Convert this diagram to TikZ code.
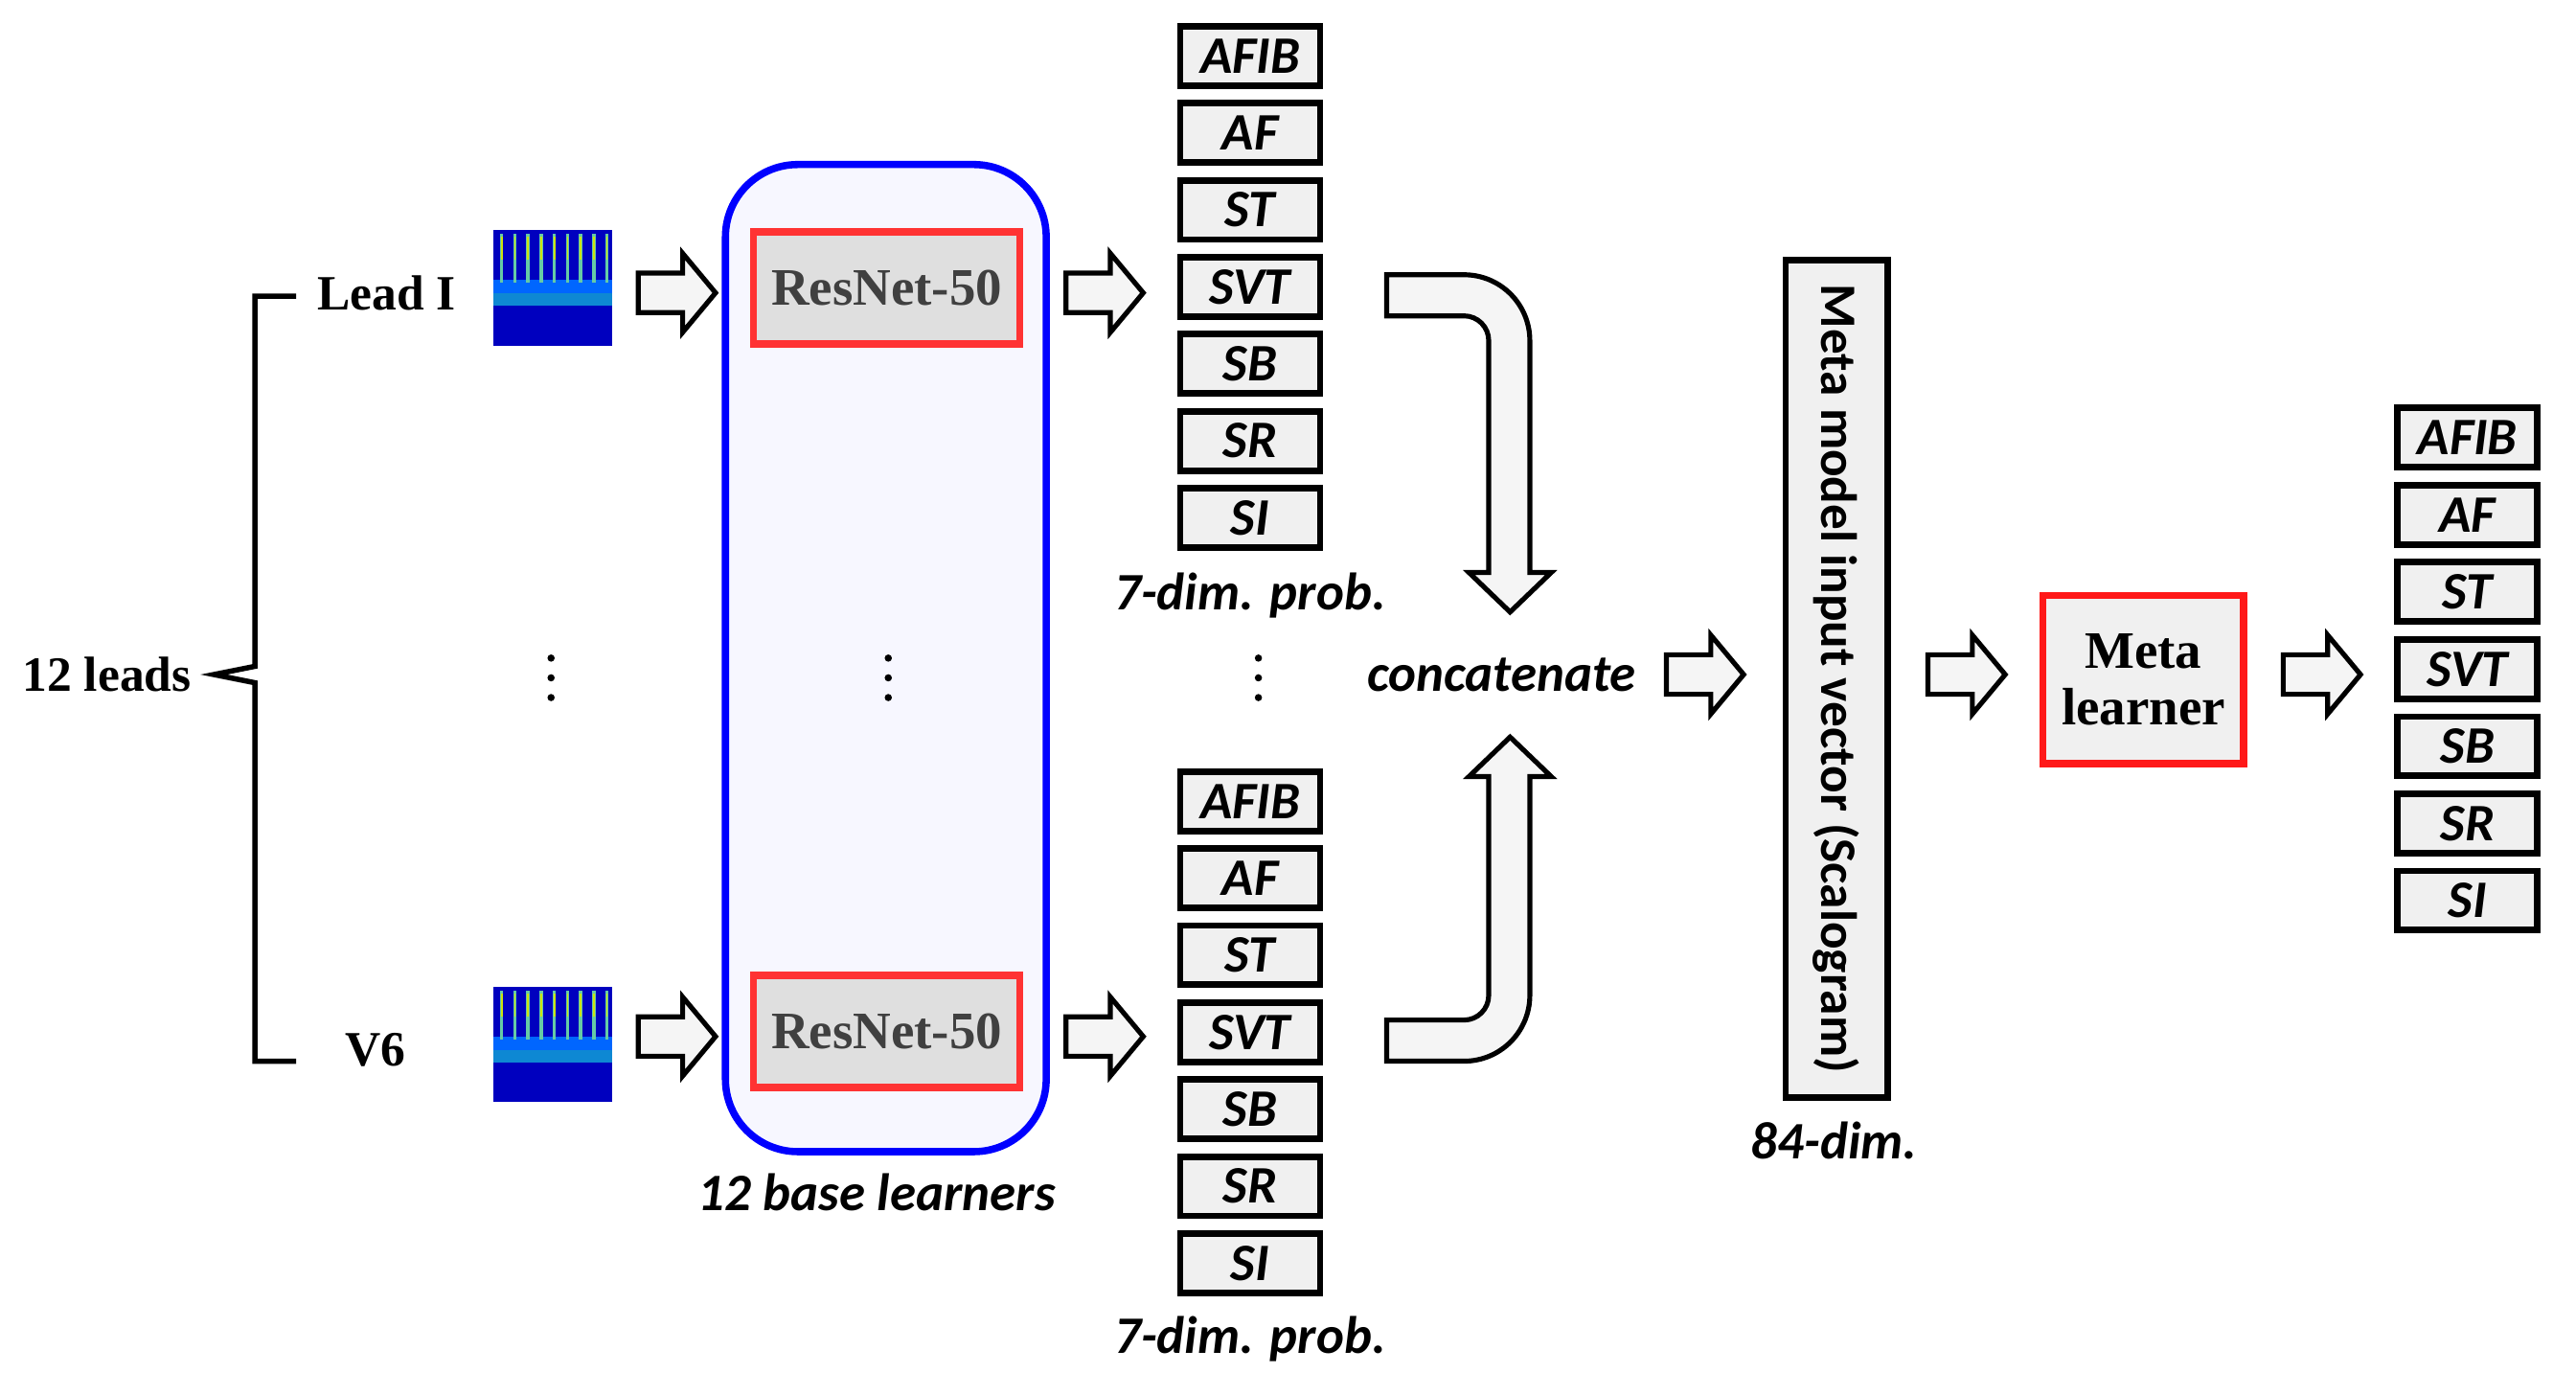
\documentclass[tikz,border=0pt]{standalone}
\usepackage{fontspec}
\setmainfont{Liberation Serif}
\newfontfamily\cf{Carlito}
\begin{document}
\begin{tikzpicture}[x=0.5pt,y=0.5pt,
  cls/.style={draw, line width=2pt, fill=gray!12, minimum width=42.5pt, minimum height=18pt, inner sep=0pt, font=\cf\bfseries\itshape\fontsize{16}{16}\selectfont},
  lbl/.style={font=\cf\bfseries\itshape\fontsize{16}{16}\selectfont},
  ser/.style={font=\bfseries\fontsize{15}{15}\selectfont},
  barrow/.pic={\draw[line width=1.5pt, fill=gray!8, line join=miter] (0,-12)--(27,-12)--(27,-24)--(47,0)--(27,24)--(27,12)--(0,12)--cycle;},
  bigarrow/.style={draw, line width=1.5pt, fill=gray!8, line join=miter}]
\useasboundingbox (0,0) rectangle (1566,-834);
% brace
\draw[line width=1.6pt] (180,-180) -- (155,-180) -- (155,-405) -- (130,-410) -- (155,-415) -- (155,-645) -- (180,-645);
\node[ser] (leads) at (65,-410) {12 leads};
\node[ser] (leadI) at (235,-178) {Lead I};
\node[ser] (v6) at (228,-638) {V6};
% scalograms
\foreach \yy/\nm in {140/sA,600/sB}{
  \fill[blue!75!black] (300,-\yy) rectangle (372,-\yy-70);
  \fill[cyan!70!blue] (300,-\yy-38) rectangle (372,-\yy-46);
  \fill[blue!60!cyan] (300,-\yy-30) rectangle (372,-\yy-38);
  \foreach \k in {0,...,8}{\fill[cyan!60!yellow] (304+\k*8,-\yy-2) rectangle (306+\k*8,-\yy-32);}
  \foreach \k in {0,...,8}{\fill[yellow!80!green] (304.5+\k*8,-\yy-4) rectangle (305.5+\k*8,-\yy-18);}
  \coordinate (\nm) at (336,-\yy-35);
}
% base learners container
\draw[blue, line width=2.2pt, fill=blue!3, rounded corners=22pt] (441,-100) rectangle (636,-700);
\node[draw=red!80, line width=2.2pt, fill=gray!25, minimum width=81pt, minimum height=34pt, font=\bfseries\fontsize{16}{16}\selectfont, text=black!75] (r1) at (539,-175) {ResNet-50};
\node[draw=red!80, line width=2.2pt, fill=gray!25, minimum width=81pt, minimum height=34pt, font=\bfseries\fontsize{16}{16}\selectfont, text=black!75] (r2) at (539,-627) {ResNet-50};
\node[lbl] (bl) at (533,-725) {12 base learners};
% arrows
\pic (a1) at (388,-178) {barrow};
\pic (a2) at (388,-630) {barrow};
\pic (a3) at (648,-178) {barrow};
\pic (a4) at (648,-630) {barrow};
\pic (a5) at (1013,-410) {barrow};
\pic (a6) at (1172,-410) {barrow};
\pic (a7) at (1388,-410) {barrow};
% dots
\foreach \xx in {335,540,765}{\foreach \dy in {400,412,424}{\fill (\xx,-\dy) circle[radius=2.2];}}
% class columns
\foreach \t [count=\i] in {AFIB,AF,ST,SVT,SB,SR,SI}{
  \node[cls] (t\i) at (760,-34-46.8*\i+46.8) {\t};
  \node[cls] (b\i) at (760,-487-46.8*\i+46.8) {\t};
  \node[cls] (o\i) at (1500,-266-46.9*\i+46.9) {\t};
}
\node[lbl] (p1) at (760,-362) {7-dim. prob.};
\node[lbl] (p2) at (760,-814) {7-dim. prob.};
% curved arrows
\draw[bigarrow] (843,-167) -- (890,-167) arc[start angle=90,end angle=0,radius=40] -- (930,-348) -- (943,-348) -- (918,-372) -- (893,-348) -- (905,-348) -- (905,-207) arc[start angle=0,end angle=90,radius=15] -- (843,-192) -- cycle;
\draw[bigarrow] (843,-645) -- (890,-645) arc[start angle=-90,end angle=0,radius=40] -- (930,-472) -- (943,-472) -- (918,-448) -- (893,-472) -- (905,-472) -- (905,-605) arc[start angle=0,end angle=-90,radius=15] -- (843,-620) -- cycle;
\node[lbl] (cc) at (913,-410) {concatenate};
% meta model input
\node[draw, line width=2pt, fill=gray!12, minimum width=254.5pt, minimum height=31pt, rotate=-90, font=\cf\bfseries\fontsize{15.5}{15.5}\selectfont, inner sep=0pt] (mm) at (1116.5,-412.5) {Meta model input vector (Scalogram)};
\node[lbl] (d84) at (1115,-693) {84-dim.};
\node[draw=red!90, line width=2.2pt, fill=gray!12, minimum width=61pt, minimum height=51pt, align=center, font=\bfseries\fontsize{16}{17}\selectfont] (ml) at (1303,-413) {Meta\\learner};
\end{tikzpicture}
\end{document}
